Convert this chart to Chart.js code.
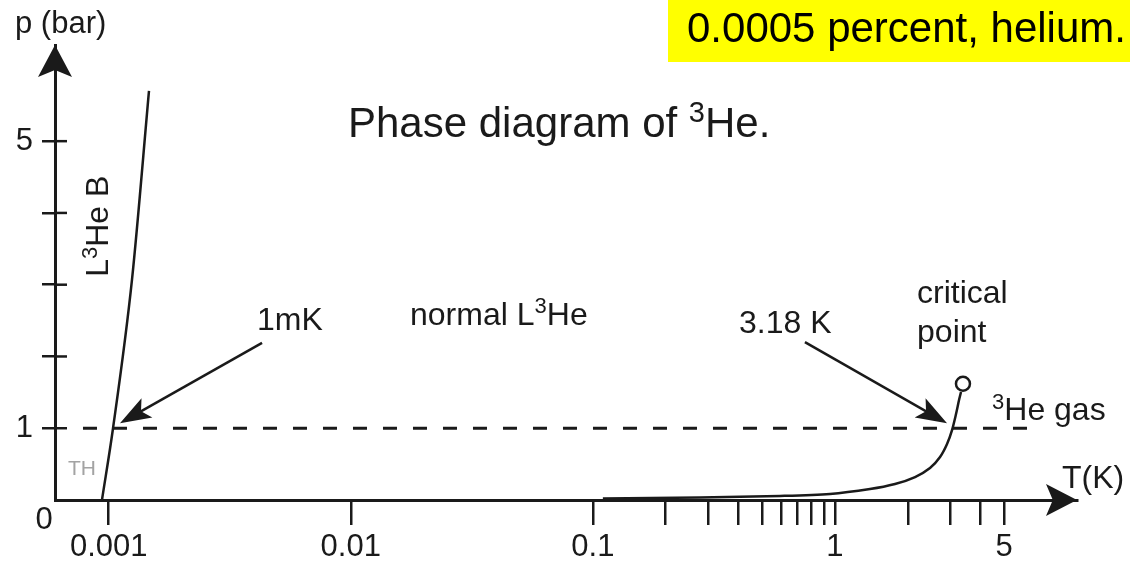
<!DOCTYPE html>
<html>
<head>
<meta charset="utf-8">
<script src="https://cdn.jsdelivr.net/npm/chart.js@4/dist/chart.umd.min.js"></script>
<style>
  html, body { margin: 0; padding: 0; background: #fff; }
  #wrap { width: 1130px; height: 563px; }
</style>
</head>
<body>
<div id="wrap"><canvas id="PhaseChart" width="1130" height="563"></canvas></div>
<script>
// 3He 相図
var meltT = [0.000938, 0.001042, 0.001248, 0.001467];
var meltP = [0, 1, 3.07, 5.70];
var vaporT = [0.11, 0.277, 0.593, 0.954, 1.396, 1.771, 2.143, 2.471, 2.718, 2.905, 3.046, 3.164, 3.256, 3.318];
var vaporP = [0.021, 0.035, 0.056, 0.084, 0.153, 0.223, 0.32, 0.446, 0.599, 0.78, 0.975, 1.198, 1.393, 1.505];
var criticalT = [3.38];
var criticalP = [1.62];
var oneBarT = [0.000783, 6.58];
var oneBarP = [1, 1];
var xTicks = [0.001, 0.01, 0.1, 0.2, 0.3, 0.4, 0.5, 0.6, 0.7, 0.8, 0.9, 1, 2, 3, 4, 5];
var xLabels = [0.001, 0.01, 0.1, 1, 5];
var yTicks = [1, 2, 3, 4, 5];
var yLabels = [1, 5];

var FONT = '"Liberation Sans", Arial, sans-serif';
var INK = '#1a1a1a';

function pts(xs, ys) {
  return xs.map(function (x, i) { return {x: x, y: ys[i]}; });
}

function richText(c, parts, x, y, size) {
  var cx = x;
  parts.forEach(function (p) {
    var sup = p[1];
    c.font = (sup ? Math.round(size * 0.68) : size) + 'px ' + FONT;
    c.fillText(p[0], cx, sup ? y - size * 0.36 : y);
    cx += c.measureText(p[0]).width;
  });
}

function arrowHead(c, x, y, ang, len, half) {
  c.save();
  c.translate(x, y);
  c.rotate(ang);
  c.beginPath();
  c.moveTo(0, 0);
  c.lineTo(-len, -half);
  c.lineTo(-len * 0.78, 0);
  c.lineTo(-len, half);
  c.closePath();
  c.fill();
  c.restore();
}

function arrow(c, x1, y1, x2, y2) {
  var a = Math.atan2(y2 - y1, x2 - x1);
  c.beginPath();
  c.moveTo(x1, y1);
  c.lineTo(x2 - Math.cos(a) * 20, y2 - Math.sin(a) * 20);
  c.stroke();
  arrowHead(c, x2, y2, a, 31, 11);
}

var decor = {
  id: 'decor',
  afterDraw: function (chart) {
    var c = chart.ctx, xs = chart.scales.x, ys = chart.scales.y, a = chart.chartArea;
    var X = function (v) { return xs.getPixelForValue(v); };
    var Y = function (v) { return ys.getPixelForValue(v); };
    c.save();
    c.fillStyle = INK;
    c.strokeStyle = INK;
    c.lineWidth = 2.5;

    // y目盛りの内側半分
    yTicks.forEach(function (v) {
      c.beginPath();
      c.moveTo(a.left, Y(v));
      c.lineTo(a.left + 12, Y(v));
      c.stroke();
    });

    // 軸の矢印
    arrowHead(c, a.right, a.bottom, 0, 31, 16);
    arrowHead(c, a.left, a.top, -Math.PI / 2, 32, 17);

    // 注記の矢印
    c.lineWidth = 2.5;
    arrow(c, X(0.0043), Y(2.19), X(0.001113), Y(1.07));
    arrow(c, X(0.752), Y(2.20), X(2.905), Y(1.07));

    // テキスト
    c.textAlign = 'left';
    c.textBaseline = 'alphabetic';
    richText(c, [['1mK']], X(0.0041), Y(2.37), 32);
    richText(c, [['normal L'], ['3', true], ['He']], X(0.01757), Y(2.44), 32);
    richText(c, [['3.18 K']], X(0.4017), Y(2.33), 32);
    richText(c, [['critical']], X(2.184), Y(2.74), 32);
    richText(c, [['point']], X(2.184), Y(2.20), 32);
    richText(c, [['3', true], ['He gas']], X(4.457), Y(1.11), 32);
    richText(c, [['T(K)']], X(8.67), Y(0.17), 32);

    c.fillStyle = '#a3a3a3';
    richText(c, [['TH']], X(0.000679), Y(0.35), 21);
    c.fillStyle = INK;

    c.save();
    c.translate(X(0.000994), Y(3.11));
    c.rotate(-Math.PI / 2);
    richText(c, [['L'], ['3', true], ['He B']], 0, 0, 32);
    c.restore();

    // 原点の 0
    c.textAlign = 'center';
    c.textBaseline = 'middle';
    c.font = '31px ' + FONT;
    c.fillText('0', a.left - 11, a.bottom + 20);

    // 軸タイトル・図題・黄色のメモ
    c.textAlign = 'left';
    c.textBaseline = 'alphabetic';
    richText(c, [['p (bar)']], 15, 33, 31);
    richText(c, [['Phase diagram of '], ['3', true], ['He.']], 348, 137, 42);

    c.fillStyle = '#ffff00';
    c.fillRect(668, 0, 462, 62);
    c.fillStyle = '#000';
    richText(c, [['0.0005 percent, helium.']], 687, 42, 42);
    c.restore();
  }
};

var ctx = document.getElementById('PhaseChart').getContext('2d');
var myChart = new Chart(ctx, {
  type: 'scatter',
  data: {
    datasets: [
      {
        label: 'critical point',
        data: pts(criticalT, criticalP),
        pointRadius: 7,
        pointBackgroundColor: '#fff',
        pointBorderColor: INK,
        pointBorderWidth: 2.5,
        showLine: false
      },
      {
        label: 'melting',
        data: pts(meltT, meltP),
        showLine: true,
        borderColor: INK,
        borderWidth: 2.5,
        pointRadius: 0,
        cubicInterpolationMode: 'monotone'
      },
      {
        label: 'vapour',
        data: pts(vaporT, vaporP),
        showLine: true,
        borderColor: INK,
        borderWidth: 2.5,
        pointRadius: 0,
        tension: 0.3
      },
      {
        label: '1 bar',
        data: pts(oneBarT, oneBarP),
        showLine: true,
        borderColor: INK,
        borderWidth: 3,
        borderDash: [14, 16],
        pointRadius: 0
      }
    ]
  },
  options: {
    responsive: false,
    animation: false,
    layout: {padding: {top: 45, right: 53, left: 0, bottom: 0}},
    plugins: {legend: {display: false}, tooltip: {enabled: false}},
    datasets: {scatter: {clip: false}},
    scales: {
      x: {
        type: 'logarithmic',
        min: 0.0006,
        max: 10,
        afterBuildTicks: function (s) { s.ticks = xTicks.map(function (v) { return {value: v}; }); },
        afterFit: function (s) { s.height = 63; },
        ticks: {
          autoSkip: false,
          maxRotation: 0,
          minRotation: 0,
          padding: 4,
          color: INK,
          font: {family: FONT, size: 31},
          callback: function (v) { return xLabels.indexOf(v) >= 0 ? String(v) : ''; }
        },
        grid: {drawOnChartArea: false, drawTicks: true, tickLength: 25, lineWidth: 2.5, color: INK},
        border: {display: true, width: 3, color: INK}
      },
      y: {
        type: 'linear',
        min: 0,
        max: 6.34,
        afterBuildTicks: function (s) { s.ticks = yTicks.map(function (v) { return {value: v}; }); },
        afterFit: function (s) { s.width = 55; },
        ticks: {
          autoSkip: false,
          padding: 9,
          color: INK,
          font: {family: FONT, size: 31},
          callback: function (v) { return yLabels.indexOf(v) >= 0 ? String(v) : ''; }
        },
        grid: {drawOnChartArea: false, drawTicks: true, tickLength: 13, lineWidth: 2.5, color: INK},
        border: {display: true, width: 3, color: INK}
      }
    }
  },
  plugins: [decor]
});
</script>
</body>
</html>
